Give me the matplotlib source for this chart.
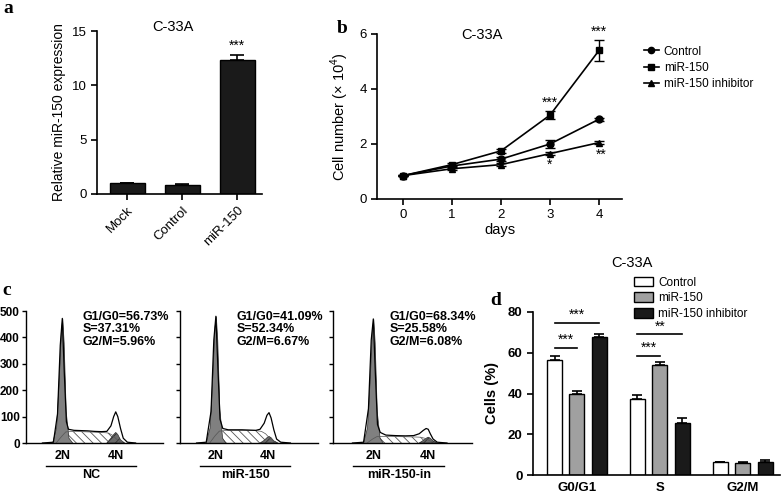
"""C-33A miR-150 figure: expression, growth, cell cycle histograms and phase bars."""

import matplotlib

matplotlib.use("Agg")
import matplotlib.pyplot as plt
from matplotlib.lines import Line2D
from matplotlib.patches import Patch

plt.rcParams["font.family"] = ["Liberation Sans", "DejaVu Sans"]
plt.rcParams["mathtext.fontset"] = "custom"
plt.rcParams["mathtext.rm"] = "Liberation Sans"
plt.rcParams["hatch.linewidth"] = 0.6

# ---- panel a: relative expression
expr_groups = ["Mock", "Control", "miR-150"]
expr_values = [1.0, 0.8, 12.3]
expr_errors = [0.05, 0.15, 0.45]

# ---- panel b: growth curves
days = [0, 1, 2, 3, 4]
growth_control = [0.85, 1.2, 1.45, 2.0, 2.9]
growth_mir = [0.85, 1.25, 1.75, 3.05, 5.4]
growth_inhib = [0.85, 1.1, 1.25, 1.65, 2.05]
err_control = [0.03, 0.05, 0.08, 0.13, 0.05]
err_mir = [0.03, 0.06, 0.08, 0.15, 0.38]
err_inhib = [0.03, 0.04, 0.06, 0.06, 0.05]

# ---- panel c: flow cytometry histograms (channel, count)
hist_names = ["NC", "miR-150", "miR-150-in"]
hist_g1g0 = ["56.73", "41.09", "68.34"]
hist_s = ["37.31", "52.34", "25.58"]
hist_g2m = ["5.96", "6.67", "6.08"]
hist_2n = [26.5, 26, 29]
hist_4n = [65.5, 64, 68]

nc_total_x = [12, 20, 23, 25, 26.5, 28, 29.5, 31, 35, 40, 45, 50, 55, 59, 62, 64, 65.5, 67, 69, 71, 74, 80]
nc_total_y = [0, 3, 110, 370, 472, 260, 80, 52, 48, 47, 46, 44, 43, 44, 65, 100, 118, 100, 55, 18, 3, 0]
nc_g1_x = [19, 22, 24, 25.5, 26.5, 27.5, 29, 31, 34]
nc_g1_y = [0, 60, 250, 430, 472, 380, 120, 20, 0]
nc_s_x = [22, 26, 29, 35, 45, 55, 60, 63, 66, 70]
nc_s_y = [0, 25, 42, 44, 42, 40, 38, 30, 15, 0]
nc_g2_x = [59, 62, 64, 65.5, 67, 69, 72]
nc_g2_y = [0, 18, 32, 40, 32, 12, 0]

mir_total_x = [12, 19, 22.5, 24.5, 26, 27.5, 29, 31, 35, 40, 45, 50, 55, 58, 61, 63, 64.5, 66, 68, 70, 73, 80]
mir_total_y = [0, 3, 120, 390, 480, 280, 90, 55, 50, 50, 50, 49, 48, 52, 75, 105, 115, 95, 50, 15, 3, 0]
mir_g1_x = [18.5, 21.5, 23.5, 25, 26, 27, 28.5, 30.5, 33]
mir_g1_y = [0, 60, 260, 440, 480, 390, 130, 20, 0]
mir_s_x = [21.5, 25.5, 28.5, 35, 45, 55, 59, 62, 65, 69]
mir_s_y = [0, 28, 45, 48, 48, 47, 44, 35, 18, 0]
mir_g2_x = [58, 61, 63, 64.5, 66, 68, 71]
mir_g2_y = [0, 10, 20, 25, 20, 8, 0]

inh_total_x = [14, 22, 25.5, 27.5, 29, 30.5, 32, 34, 38, 45, 52, 58, 62, 65, 67, 68.5, 70, 72, 75, 82]
inh_total_y = [0, 3, 130, 390, 470, 260, 70, 40, 30, 28, 27, 28, 35, 48, 55, 52, 35, 15, 3, 0]
inh_g1_x = [21.5, 24.5, 26.5, 28, 29, 30, 31.5, 33.5, 36]
inh_g1_y = [0, 60, 250, 430, 470, 380, 120, 20, 0]
inh_s_x = [24.5, 28.5, 31.5, 38, 48, 58, 63, 66, 69, 73]
inh_s_y = [0, 15, 24, 25, 24, 23, 22, 18, 10, 0]
inh_g2_x = [62, 65, 67, 68.5, 70, 72, 75]
inh_g2_y = [0, 10, 18, 22, 18, 8, 0]

hist_series = [
    (nc_total_x, nc_total_y, nc_g1_x, nc_g1_y, nc_s_x, nc_s_y, nc_g2_x, nc_g2_y),
    (mir_total_x, mir_total_y, mir_g1_x, mir_g1_y, mir_s_x, mir_s_y, mir_g2_x, mir_g2_y),
    (inh_total_x, inh_total_y, inh_g1_x, inh_g1_y, inh_s_x, inh_s_y, inh_g2_x, inh_g2_y),
]

# ---- panel d: phase distribution
phases = ["G0/G1", "S", "G2/M"]
phase_control = [56.5, 37.3, 6.2]
phase_mir = [39.8, 54.1, 6.0]
phase_inhib = [67.8, 25.6, 6.4]
phase_err_control = [1.8, 2.0, 0.4]
phase_err_mir = [1.5, 1.6, 0.5]
phase_err_inhib = [1.5, 2.2, 0.9]
# (phase index, compare with group k: 1 = miR-150, 2 = inhibitor, line height, label)
sig_marks = [(0, 2, 74.6, "***"), (0, 1, 62.3, "***"), (1, 2, 69.0, "**"), (1, 1, 58.4, "***")]


def style_axes(ax, lw=1.2):
    for side in ("top", "right"):
        ax.spines[side].set_visible(False)
    for side in ("left", "bottom"):
        ax.spines[side].set_linewidth(lw)
    ax.tick_params(direction="out", width=lw, length=4)


fig = plt.figure(figsize=(7.84, 4.96), dpi=100)
W, H = 784.0, 496.0


def add_axes_px(x0, y0, x1, y1):
    return fig.add_axes([x0 / W, 1 - y1 / H, (x1 - x0) / W, (y1 - y0) / H])


letter_kw = dict(fontsize=14, fontweight="bold", family="Liberation Serif", va="top", ha="left")

# ---------------- panel a
ax_a = add_axes_px(97, 31, 262, 194)
style_axes(ax_a)
pos_a = range(len(expr_groups))
ax_a.bar(pos_a, expr_values, width=0.64, color="#1a1a1a", edgecolor="black")
ax_a.errorbar(pos_a, expr_values, yerr=[[0] * 3, expr_errors], fmt="none",
              ecolor="black", capsize=5, elinewidth=1.2, capthick=1.2)
ax_a.set_xlim(-0.55, 2.45)
ax_a.set_ylim(0, 15)
ax_a.set_yticks([0, 5, 10, 15])
ax_a.set_xticks(list(pos_a))
ax_a.set_xticklabels(expr_groups, rotation=45, ha="right", rotation_mode="anchor")
ax_a.tick_params(labelsize=9.5)
ax_a.set_ylabel("Relative miR-150 expression", fontsize=10, labelpad=4)
ax_a.text(0.46, 1.025, "C-33A", transform=ax_a.transAxes, ha="center", va="center",
          fontsize=10.5)
ax_a.text(2, expr_values[2] + expr_errors[2] + 0.2, "***", ha="center", va="bottom", fontsize=10)
fig.text(3 / W, 1 - 0 / H, "a", **letter_kw)

# ---------------- panel b
ax_b = add_axes_px(377, 34, 622, 199)
style_axes(ax_b)
for vals, errs, mk, lab in [
    (growth_control, err_control, "o", "Control"),
    (growth_mir, err_mir, "s", "miR-150"),
    (growth_inhib, err_inhib, "^", "miR-150 inhibitor"),
]:
    ax_b.errorbar(days, vals, yerr=errs, color="black", marker=mk, markersize=5,
                  lw=1.2, capsize=3.5, elinewidth=1.0, capthick=1.0, label=lab)
ax_b.set_xlim(-0.53, 4.47)
ax_b.set_ylim(0, 6)
ax_b.set_xticks(days)
ax_b.set_yticks([0, 2, 4, 6])
ax_b.tick_params(labelsize=9.5)
ax_b.set_xlabel("days", fontsize=10.5, labelpad=1)
ax_b.set_ylabel("Cell number (× 10$^{4}$)", fontsize=10.5, labelpad=6)
ax_b.text(0.43, 0.995, "C-33A", transform=ax_b.transAxes, ha="center", va="center",
          fontsize=10.5)
ax_b.text(3, growth_mir[3] + err_mir[3] + 0.05, "***", ha="center", va="bottom", fontsize=10)
ax_b.text(4, growth_mir[4] + err_mir[4] + 0.05, "***", ha="center", va="bottom", fontsize=10)
ax_b.text(3, growth_inhib[3] - 0.15, "*", ha="center", va="top", fontsize=10)
ax_b.text(4.05, growth_inhib[4] - 0.2, "**", ha="center", va="top", fontsize=10)
handles_b = [Line2D([0], [0], color="black", marker=m, markersize=4.5, lw=1.2)
             for m in ("o", "s", "^")]
fig.legend(handles_b, ["Control", "miR-150", "miR-150 inhibitor"], loc="upper left",
           bbox_to_anchor=(633 / W, 1 - 35 / H), frameon=False, fontsize=8.5,
           handlelength=1.3, handletextpad=0.4, labelspacing=0.35)
fig.text(337 / W, 1 - 20 / H, "b", **letter_kw)

# ---------------- panel c
c_boxes = [(26, 311, 163, 443), (180, 311, 318, 443), (333, 311, 472, 443)]
for i, box in enumerate(c_boxes):
    ax = add_axes_px(*box)
    style_axes(ax, lw=1.0)
    tx, ty, g1x, g1y, sx, sy, g2x, g2y = hist_series[i]
    ax.fill_between(sx, sy, color="white", hatch="\\\\\\\\", edgecolor="#555555", lw=0.0)
    ax.plot(sx, sy, color="#555555", lw=0.5)
    ax.fill_between(g1x, g1y, color="#808080", edgecolor="#303030", lw=0.5)
    ax.fill_between(g2x, g2y, color="#6a6a6a", hatch="////", edgecolor="#303030", lw=0.5)
    ax.plot(tx, ty, color="black", lw=0.9)
    ax.set_xlim(0, 100)
    ax.set_ylim(0, 500)
    ax.set_yticks(range(0, 501, 100))
    ax.set_xticks([hist_2n[i], hist_4n[i]])
    ax.set_xticklabels(["2N", "4N"], fontweight="bold", fontsize=9)
    ax.tick_params(axis="x", length=0, pad=5)
    ax.tick_params(axis="y", length=3, pad=1.5)
    if i == 0:
        ax.tick_params(axis="y", labelsize=8.5)
        for lab in ax.get_yticklabels():
            lab.set_fontweight("bold")
    else:
        ax.set_yticklabels([])
    ax.text(0.41, 1.0, f"G1/G0={hist_g1g0[i]}%\nS={hist_s[i]}%\nG2/M={hist_g2m[i]}%",
            transform=ax.transAxes, ha="left", va="top", fontsize=9, fontweight="bold",
            linespacing=1.05)
    ax.plot([0.147, 0.80], [-0.174, -0.174], transform=ax.transAxes, color="black",
            lw=1.0, clip_on=False)
    ax.text(0.475, -0.24, hist_names[i], transform=ax.transAxes, ha="center", va="center",
            fontsize=9, fontweight="bold")
fig.text(2 / W, 1 - 282 / H, "c", **letter_kw)

# ---------------- panel d
ax_d = add_axes_px(533, 312, 780, 475)
style_axes(ax_d)
off, bw = 0.27, 0.18
pos_d = list(range(len(phases)))
for k, (vals, errs, col) in enumerate([
    (phase_control, phase_err_control, "white"),
    (phase_mir, phase_err_mir, "#a0a0a0"),
    (phase_inhib, phase_err_inhib, "#1a1a1a"),
]):
    xs = [p + (k - 1) * off for p in pos_d]
    ax_d.bar(xs, vals, width=bw, color=col, edgecolor="black", lw=1.0, zorder=2)
    ax_d.errorbar(xs, vals, yerr=[[0] * 3, errs], fmt="none", ecolor="black",
                  capsize=3.5, elinewidth=1.2, capthick=1.2, zorder=3)
ax_d.set_xlim(-0.53, 2.45)
ax_d.set_ylim(0, 80)
ax_d.set_yticks([0, 20, 40, 60, 80])
ax_d.set_xticks(pos_d)
ax_d.set_xticklabels(phases)
ax_d.tick_params(labelsize=9.5)
ax_d.tick_params(axis="x", length=0, pad=5)
for lab in ax_d.get_xticklabels() + ax_d.get_yticklabels():
    lab.set_fontweight("bold")
ax_d.set_ylabel("Cells (%)", fontsize=10.5, fontweight="bold", labelpad=6)
for grp, other, yv, stars in sig_marks:
    x0 = grp - off
    x1 = grp + (other - 1) * off
    ax_d.plot([x0, x1], [yv, yv], color="black", lw=1.2, clip_on=False)
    ax_d.text((x0 + x1) / 2, yv + 0.5, stars, ha="center", va="bottom", fontsize=10)
fig.text(632 / W, 1 - 263 / H, "C-33A", ha="center", va="center", fontsize=10.5)
handles_d = [Patch(facecolor=c, edgecolor="black") for c in ("white", "#a0a0a0", "#1a1a1a")]
fig.legend(handles_d, ["Control", "miR-150", "miR-150 inhibitor"], loc="upper left",
           bbox_to_anchor=(623 / W, 1 - 266 / H), frameon=False, fontsize=8.5,
           handlelength=1.6, handleheight=0.9, handletextpad=0.5, labelspacing=0.3)
fig.text(490 / W, 1 - 292 / H, "d", **letter_kw)

fig.savefig("out.png", dpi=100)
